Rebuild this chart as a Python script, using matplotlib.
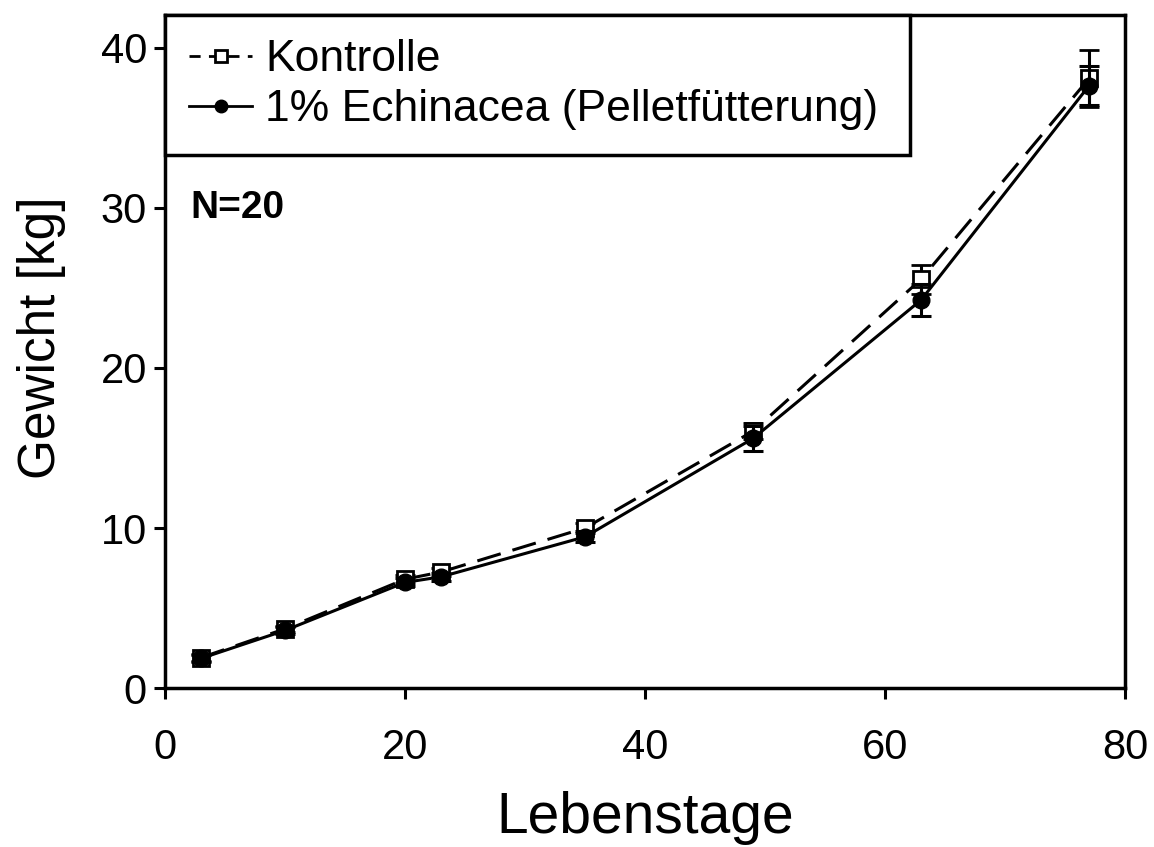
import matplotlib
matplotlib.use("Agg")
import matplotlib.pyplot as plt

plt.rcParams['font.family'] = ['Liberation Sans', 'DejaVu Sans']

# Lebenstage (age in days) at which the pigs were weighed
days = [3, 10, 20, 23, 35, 49, 63, 77]

# Mean body weight [kg] and standard error per group
kontrolle = [1.9, 3.7, 6.8, 7.25, 10.0, 16.05, 25.55, 38.1]
kontrolle_err = [0.2, 0.2, 0.25, 0.25, 0.3, 0.5, 0.9, 1.8]

echinacea = [1.85, 3.6, 6.6, 6.95, 9.45, 15.6, 24.25, 37.65]
echinacea_err = [0.2, 0.2, 0.25, 0.25, 0.35, 0.8, 1.0, 1.2]

series_labels = ["Kontrolle", "1% Echinacea (Pelletfütterung)"]
xticks = [0, 20, 40, 60, 80]
yticks = [0, 10, 20, 30, 40]

fig = plt.figure(figsize=(11.54, 8.47), dpi=100)
ax = fig.add_axes([0.143, 0.1877, 0.832, 0.7946])

ax.errorbar(days, kontrolle, yerr=kontrolle_err, color='black', lw=2.2,
            ls=(0, (8, 4)), marker='s', ms=11, mfc='white', mec='black',
            mew=2, capsize=7, capthick=2.2, elinewidth=2.2,
            label=series_labels[0], zorder=3)
ax.errorbar(days, echinacea, yerr=echinacea_err, color='black', lw=2.2,
            ls='-', marker='o', ms=12, mfc='black', mec='black',
            capsize=7, capthick=2.2, elinewidth=2.2,
            label=series_labels[1], zorder=4)

ax.set_xlim(0, 80)
ax.set_ylim(0, 42.06)
ax.set_xticks(xticks)
ax.set_yticks(yticks)
ax.tick_params(direction='out', length=8, width=2.2, labelsize=30)
ax.tick_params(axis='x', pad=21)
ax.tick_params(axis='y', pad=5)
for sp in ax.spines.values():
    sp.set_linewidth(2.5)

ax.set_xlabel("Lebenstage", fontsize=41)
ax.set_ylabel("Gewicht [kg]", fontsize=37)
ax.xaxis.set_label_coords(0.5, -0.153)
ax.yaxis.set_label_coords(-0.103, 0.52)

ax.text(0.026, 0.713, "N=20", transform=ax.transAxes, fontsize=28,
        fontweight='bold', va='center', ha='left')

handles, labels = ax.get_legend_handles_labels()
handles = [h[0] for h in handles]
leg = ax.legend(handles, labels, loc='upper left',
                bbox_to_anchor=(0, 0.795, 0.776, 0.205), mode='expand',
                borderaxespad=0, fontsize=32, frameon=True, fancybox=False,
                edgecolor='black', framealpha=1, handlelength=1.4,
                handletextpad=0.3, borderpad=0.55, labelspacing=0.2,
                markerscale=0.75)
leg.get_frame().set_linewidth(2.5)
for h in leg.legend_handles:
    h.set_linewidth(2)
leg.legend_handles[0].set_linestyle((0, (4, 3)))

fig.savefig("out.png", dpi=100)
